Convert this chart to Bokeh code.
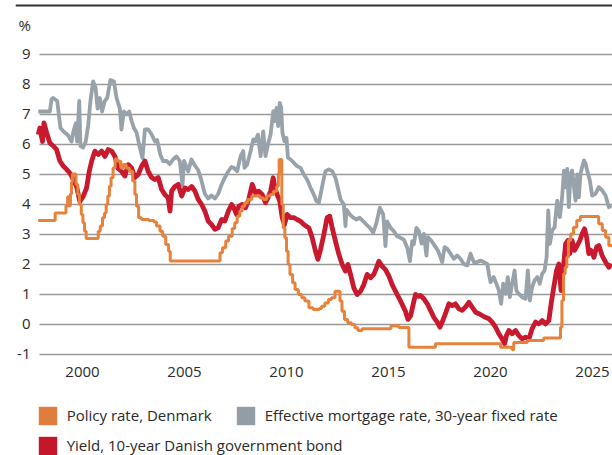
from bokeh.plotting import figure
from bokeh.models import Range1d, FixedTicker, Span, Label, Legend, LegendItem, ColumnDataSource
from bokeh.embed import file_html
from bokeh.resources import INLINE

# ---- data (decimal years) ----
mort_x = [1997.83, 1998.40, 1998.48, 1998.56, 1998.76, 1998.92, 1999.05, 1999.30, 1999.46, 1999.58,
          1999.67, 1999.74, 1999.84, 1999.90, 2000.03, 2000.16, 2000.28, 2000.39, 2000.52, 2000.64,
          2000.74, 2000.85, 2000.96, 2001.09, 2001.21, 2001.37, 2001.54, 2001.67, 2001.83, 2001.91,
          2002.03, 2002.16, 2002.29, 2002.40, 2002.52, 2002.65, 2002.81, 2002.94, 2003.06, 2003.22,
          2003.38, 2003.55, 2003.66, 2003.82, 2003.95, 2004.12, 2004.28, 2004.44, 2004.61, 2004.77,
          2004.90, 2004.98, 2005.18, 2005.34, 2005.51, 2005.67, 2005.83, 2006.00, 2006.16, 2006.32,
          2006.49, 2006.65, 2006.81, 2006.98, 2007.14, 2007.30, 2007.42, 2007.58, 2007.75, 2007.88,
          2007.94, 2008.07, 2008.24, 2008.37, 2008.48, 2008.60, 2008.73, 2008.86, 2008.97, 2009.09,
          2009.22, 2009.35, 2009.43, 2009.51, 2009.59, 2009.67, 2009.74, 2009.80, 2009.90, 2010.00,
          2010.07, 2010.20, 2010.36, 2010.52, 2010.69, 2010.85, 2011.01, 2011.18, 2011.34, 2011.47,
          2011.59, 2011.70, 2011.80, 2011.91, 2012.08, 2012.24, 2012.40, 2012.52, 2012.65, 2012.81,
          2012.89, 2012.94, 2013.10, 2013.27, 2013.43, 2013.59, 2013.76, 2013.92, 2014.09, 2014.25,
          2014.41, 2014.575, 2014.74, 2014.85, 2014.93, 2015.10, 2015.26, 2015.42, 2015.59, 2015.75,
          2015.92, 2016.05, 2016.16, 2016.24, 2016.37, 2016.49, 2016.62, 2016.73, 2016.86, 2016.93,
          2017.09, 2017.26, 2017.42, 2017.55, 2017.63, 2017.75, 2017.88, 2018.04, 2018.20, 2018.37,
          2018.53, 2018.69, 2018.86, 2019.02, 2019.18, 2019.35, 2019.51, 2019.67, 2019.84, 2019.92,
          2020.00, 2020.16, 2020.29, 2020.41, 2020.52, 2020.62, 2020.74, 2020.85, 2020.95, 2021.06,
          2021.18, 2021.27, 2021.39, 2021.55, 2021.72, 2021.83, 2021.93, 2022.04, 2022.16, 2022.29,
          2022.42, 2022.53, 2022.65, 2022.75, 2022.83, 2022.91, 2023.02, 2023.14, 2023.27, 2023.40,
          2023.51, 2023.60, 2023.68, 2023.76, 2023.84, 2023.92, 2024.00, 2024.09, 2024.17, 2024.25,
          2024.33, 2024.41, 2024.49, 2024.58, 2024.66, 2024.74, 2024.87, 2024.98, 2025.15, 2025.31,
          2025.47, 2025.64, 2025.80, 2025.92]
mortgage = [7.10, 7.10, 7.50, 7.55, 7.45, 6.55, 6.45, 6.30, 6.10, 6.50,
            6.70, 6.10, 7.45, 5.95, 5.90, 6.10, 6.65, 7.45, 8.10, 7.90,
            7.20, 7.55, 7.10, 7.45, 7.55, 8.15, 8.10, 7.55, 7.20, 6.50,
            7.10, 7.00, 7.10, 6.80, 6.55, 6.40, 5.90, 5.55, 6.50, 6.50,
            6.35, 6.10, 6.15, 5.65, 5.45, 5.45, 5.35, 5.50, 5.60, 5.45,
            4.65, 5.45, 5.10, 5.50, 5.30, 5.15, 4.80, 4.35, 4.20, 4.30,
            4.20, 4.35, 4.65, 4.90, 5.10, 5.25, 5.22, 5.11, 5.61, 5.78,
            5.22, 5.33, 5.78, 6.17, 6.11, 6.33, 5.61, 6.44, 5.61, 6.00,
            6.33, 7.11, 6.78, 7.22, 6.61, 7.39, 7.22, 6.39, 6.11, 6.22,
            5.56, 5.50, 5.39, 5.28, 5.22, 5.00, 4.83, 4.56, 4.33, 4.11,
            4.06, 4.44, 4.78, 5.11, 5.17, 5.11, 4.89, 4.56, 4.17, 4.00,
            3.28, 3.83, 3.67, 3.56, 3.50, 3.56, 3.44, 3.33, 3.22, 3.06,
            3.39, 3.89, 3.67, 2.61, 3.44, 3.22, 3.11, 2.94, 2.89, 2.83,
            2.56, 2.11, 2.78, 2.67, 3.22, 3.11, 2.70, 3.02, 2.30, 2.91,
            2.80, 2.63, 2.47, 2.24, 2.08, 2.58, 2.52, 2.36, 2.19, 2.30,
            2.19, 2.02, 1.97, 2.36, 2.08, 2.08, 2.13, 2.08, 2.02, 1.69,
            1.41, 1.58, 1.36, 1.13, 0.69, 1.36, 1.02, 1.58, 0.91, 1.36,
            1.80, 1.13, 1.02, 0.91, 0.86, 1.80, 0.80, 1.24, 1.47, 1.58,
            1.36, 1.69, 1.80, 2.24, 3.80, 2.69, 3.13, 3.24, 4.13, 3.58,
            4.24, 5.13, 4.58, 5.19, 3.91, 5.00, 5.13, 4.58, 4.13, 5.00,
            4.24, 5.02, 5.24, 5.47, 5.36, 5.13, 4.80, 4.30, 4.36, 4.58,
            4.47, 4.30, 3.91, 3.97]

bond_x = [1997.83, 1997.91, 1998.04, 1998.11, 1998.24, 1998.40, 1998.57, 1998.73, 1998.89, 1999.06,
          1999.22, 1999.38, 1999.55, 1999.71, 1999.87, 2000.04, 2000.20, 2000.33, 2000.45, 2000.61,
          2000.77, 2000.94, 2001.10, 2001.26, 2001.43, 2001.59, 2001.75, 2001.92, 2002.08, 2002.24,
          2002.41, 2002.57, 2002.73, 2002.90, 2003.06, 2003.22, 2003.39, 2003.55, 2003.71, 2003.88,
          2004.04, 2004.20, 2004.29, 2004.37, 2004.53, 2004.69, 2004.86, 2005.02, 2005.18, 2005.35,
          2005.51, 2005.67, 2005.84, 2006.00, 2006.16, 2006.33, 2006.49, 2006.65, 2006.82, 2006.98,
          2007.15, 2007.31, 2007.42, 2007.55, 2007.66, 2007.83, 2007.99, 2008.15, 2008.32, 2008.48,
          2008.64, 2008.81, 2008.97, 2009.09, 2009.22, 2009.35, 2009.43, 2009.54, 2009.67, 2009.79,
          2009.90, 2010.03, 2010.20, 2010.36, 2010.52, 2010.69, 2010.85, 2011.10, 2011.26, 2011.42,
          2011.54, 2011.67, 2011.83, 2011.99, 2012.12, 2012.24, 2012.40, 2012.57, 2012.73, 2012.89,
          2013.01, 2013.14, 2013.30, 2013.46, 2013.63, 2013.79, 2013.95, 2014.12, 2014.28, 2014.41,
          2014.53, 2014.69, 2014.85, 2015.02, 2015.18, 2015.34, 2015.51, 2015.67, 2015.83, 2015.95,
          2016.08, 2016.21, 2016.32, 2016.49, 2016.57, 2016.73, 2016.90, 2017.06, 2017.22, 2017.39,
          2017.52, 2017.63, 2017.79, 2017.96, 2018.12, 2018.28, 2018.45, 2018.61, 2018.77, 2018.94,
          2019.10, 2019.27, 2019.43, 2019.59, 2019.75, 2019.92, 2020.08, 2020.25, 2020.41, 2020.57,
          2020.69, 2020.78, 2020.90, 2021.06, 2021.23, 2021.39, 2021.55, 2021.72, 2021.88, 2022.04,
          2022.21, 2022.37, 2022.53, 2022.70, 2022.86, 2022.97, 2023.10, 2023.24, 2023.35, 2023.46,
          2023.56, 2023.68, 2023.79, 2023.89, 2024.00, 2024.12, 2024.25, 2024.38, 2024.49, 2024.61,
          2024.71, 2024.82, 2024.93, 2025.07, 2025.20, 2025.31, 2025.47, 2025.64, 2025.80, 2025.92]
bond = [6.33, 6.55, 6.10, 6.72, 6.40, 6.05, 5.95, 5.83, 5.45, 5.28,
        5.17, 5.05, 4.83, 4.60, 4.10, 4.28, 4.55, 5.10, 5.45, 5.78,
        5.67, 5.78, 5.60, 5.83, 5.78, 5.60, 5.20, 5.10, 4.95, 5.33,
        5.22, 4.90, 5.00, 5.28, 5.45, 5.10, 4.90, 4.83, 4.90, 4.50,
        4.33, 4.22, 3.78, 4.45, 4.60, 4.67, 4.28, 4.55, 4.50, 4.60,
        4.45, 4.17, 4.00, 3.78, 3.45, 3.33, 3.17, 3.22, 3.50, 3.45,
        3.78, 4.00, 3.89, 3.67, 3.94, 4.00, 3.89, 4.17, 4.67, 4.39,
        4.44, 4.33, 4.06, 4.22, 4.44, 4.89, 4.56, 4.33, 4.11, 3.56,
        3.33, 3.67, 3.56, 3.56, 3.50, 3.44, 3.33, 3.22, 2.89, 2.44,
        2.17, 2.50, 3.00, 3.56, 3.61, 3.22, 2.78, 2.33, 2.00, 1.78,
        2.00, 1.67, 1.22, 1.00, 1.11, 1.33, 1.67, 1.56, 1.67, 1.89,
        2.11, 1.94, 1.83, 1.61, 1.33, 1.11, 0.89, 0.67, 0.44, 0.17,
        0.28, 0.67, 1.00, 0.94, 0.97, 0.86, 0.69, 0.47, 0.24, 0.08,
        -0.09, 0.08, 0.36, 0.69, 0.63, 0.69, 0.52, 0.47, 0.58, 0.74,
        0.58, 0.41, 0.36, 0.30, 0.24, 0.19, 0.08, -0.09, -0.31, -0.48,
        -0.64, -0.37, -0.20, -0.31, -0.20, -0.37, -0.48, -0.42, -0.48, -0.14,
        0.08, 0.02, 0.13, 0.02, 0.13, 0.69, 1.24, 1.80, 2.02, 1.13,
        1.80, 2.69, 2.80, 2.36, 2.80, 2.47, 2.63, 2.80, 3.02, 3.19,
        2.91, 2.36, 2.47, 2.24, 2.58, 2.63, 2.30, 2.08, 1.91, 2.02]

policy_x = [1997.83, 1998.66, 1999.19, 1999.27, 1999.33, 1999.41, 1999.46, 1999.50, 1999.68, 1999.77,
            1999.85, 1999.94, 2000.02, 2000.10, 2000.18, 2000.77, 2000.87, 2000.98, 2001.08, 2001.16,
            2001.24, 2001.32, 2001.40, 2001.50, 2001.60, 2001.72, 2001.88, 2002.00, 2002.14, 2002.30,
            2002.46, 2002.57, 2002.65, 2002.75, 2002.90, 2003.25, 2003.50, 2003.63, 2003.80, 2003.93,
            2004.08, 2004.22, 2004.30, 2006.74, 2006.86, 2007.02, 2007.16, 2007.34, 2007.46, 2007.58,
            2007.71, 2007.83, 2007.96, 2008.10, 2008.30, 2008.70, 2008.88, 2009.03, 2009.20, 2009.36,
            2009.52, 2009.60, 2009.64, 2009.77, 2009.84, 2009.92, 2010.00, 2010.08, 2010.17, 2010.30,
            2010.42, 2010.58, 2010.75, 2010.90, 2011.10, 2011.30, 2011.60, 2011.72, 2011.88, 2012.05,
            2012.20, 2012.38, 2012.62, 2012.72, 2012.84, 2013.00, 2013.18, 2013.35, 2013.50, 2013.70,
            2015.12, 2015.50, 2016.00, 2017.30, 2020.49, 2021.06, 2021.14, 2021.80, 2022.61, 2023.43,
            2023.50, 2023.58, 2023.66, 2023.74, 2023.82, 2023.93, 2024.07, 2024.23, 2024.40, 2025.30,
            2025.48, 2025.64, 2025.80, 2025.98]
policy = [3.47, 3.72, 3.96, 4.26, 3.96, 4.35, 4.75, 5.02, 4.67, 4.33,
          4.00, 3.67, 3.39, 3.11, 2.87, 3.11, 3.28, 3.56, 3.72, 4.00,
          4.28, 4.61, 4.89, 5.22, 5.52, 5.44, 5.22, 5.33, 5.22, 5.11,
          4.78, 4.33, 3.94, 3.56, 3.50, 3.47, 3.42, 3.28, 3.11, 2.94,
          2.67, 2.44, 2.12, 2.39, 2.56, 2.78, 2.94, 3.20, 3.39, 3.61,
          3.78, 3.94, 4.06, 4.17, 4.28, 4.22, 4.17, 4.28, 4.33, 4.44,
          4.61, 5.05, 5.50, 4.00, 3.22, 2.89, 2.44, 2.00, 1.67, 1.39,
          1.17, 1.00, 0.89, 0.78, 0.56, 0.50, 0.53, 0.61, 0.72, 0.83,
          0.89, 1.11, 0.78, 0.44, 0.17, 0.06, 0.00, -0.11, -0.20, -0.14,
          -0.04, -0.10, -0.76, -0.64, -0.76, -0.84, -0.60, -0.53, -0.45, -0.09,
          0.80, 1.69, 1.91, 2.24, 2.80, 3.02, 3.24, 3.47, 3.60, 3.36,
          3.13, 2.91, 2.63, 2.63]

x_ticks = [2000, 2005, 2010, 2015, 2020, 2025]
y_ticks = [-1, 0, 1, 2, 3, 4, 5, 6, 7, 8, 9]
legend_labels = ["Policy rate, Denmark", "Effective mortgage rate, 30-year fixed rate",
                 "Yield, 10-year Danish government bond"]

ORANGE = "#E6823C"
GRAY = "#98A2AA"
RED = "#C8192E"
TEXT = "#2a2a2a"
FONT = "Open Sans"

X0, X1 = 1996.716, 2025.98
Y0, Y1 = -4.3667, 10.8

p = figure(width=612, height=455, output_backend="svg", toolbar_location=None, title=None,
           x_range=Range1d(X0, X1), y_range=Range1d(Y0, Y1),
           min_border_left=15, min_border_right=0, min_border_top=0, min_border_bottom=0)
p.outline_line_color = None
p.background_fill_color = "white"
p.border_fill_color = "white"

# axes (placed at fixed data positions inside the canvas)
p.xaxis.fixed_location = -1.2
p.xaxis.ticker = FixedTicker(ticks=x_ticks)
p.xaxis.axis_line_color = None
p.xaxis.major_tick_line_color = None
p.xaxis.minor_tick_line_color = None
p.xaxis.major_label_standoff = 1
p.xaxis.major_label_text_font = FONT
p.xaxis.major_label_text_font_size = "15px"
p.xaxis.major_label_text_color = TEXT

p.yaxis.fixed_location = 1997.892
p.yaxis.ticker = FixedTicker(ticks=y_ticks)
p.yaxis.major_label_overrides = {t: str(t) for t in y_ticks}
p.yaxis.axis_line_color = None
p.yaxis.major_tick_line_color = None
p.yaxis.minor_tick_line_color = None
p.yaxis.major_label_standoff = 3
p.yaxis.major_label_text_font = FONT
p.yaxis.major_label_text_font_size = "15px"
p.yaxis.major_label_text_color = TEXT

p.xgrid.visible = False
p.ygrid.ticker = FixedTicker(ticks=y_ticks)
p.ygrid.grid_line_color = "#999999"
p.ygrid.grid_line_width = 1.6
p.ygrid.cross_bounds = (1997.892, X1)

p.add_layout(Span(location=10.633, dimension="width", line_color="#333333", line_width=2.2))
p.add_layout(Label(x=1996.86, y=9.967, text="%", text_font=FONT, text_font_size="15px",
                   text_baseline="middle", text_color=TEXT))

# series
p.line(mort_x, mortgage, line_color=GRAY, line_width=3.8, line_join="round")
p.line(bond_x, bond, line_color=RED, line_width=4.8, line_join="round")
p.step(policy_x, policy, mode="after", line_color=ORANGE, line_width=3)

# legend swatches (one NaN row each so that the legend draws a filled square, nothing on the plot)
nan = float("nan")
def swatch(color):
    src = ColumnDataSource(dict(left=[nan], right=[nan], top=[nan], bottom=[nan]))
    return p.quad(source=src, left="left", right="right", top="top", bottom="bottom",
                  fill_color=color, line_color=None)
r_o = swatch("#E07C3C")
r_g = swatch("#939DA6")
r_r = swatch("#C4172C")

common = dict(orientation="horizontal", padding=0, margin=0, spacing=22, glyph_width=23, glyph_height=23,
              label_height=23, label_standoff=8, label_text_font=FONT, label_text_font_size="15px",
              label_text_color=TEXT, background_fill_alpha=0, border_line_color=None)
leg1 = Legend(items=[LegendItem(label=legend_labels[0], renderers=[r_o]),
                     LegendItem(label=legend_labels[1], renderers=[r_g])],
              location=(20.7, 28.5), **common)
leg2 = Legend(items=[LegendItem(label=legend_labels[2], renderers=[r_r])],
              location=(20.7, -1.5), **common)
p.add_layout(leg1)
p.add_layout(leg2)

open("out.html", "w").write(file_html(p, INLINE))
